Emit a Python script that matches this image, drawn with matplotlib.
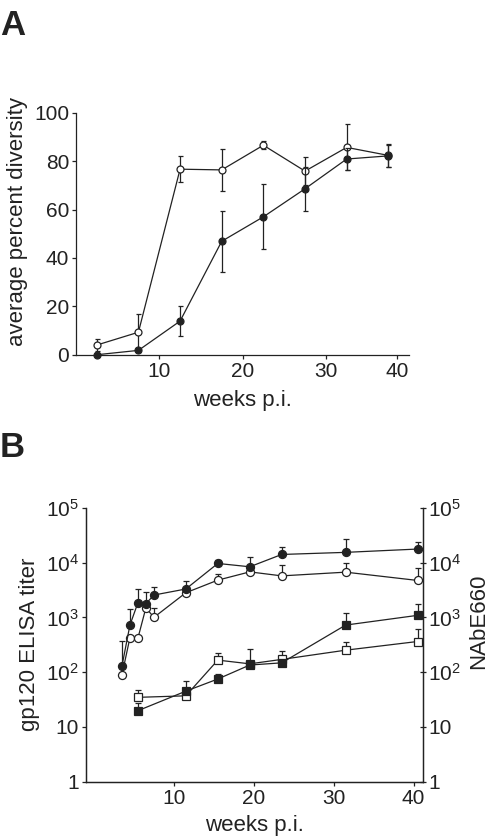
import matplotlib
matplotlib.use("Agg")
import matplotlib.pyplot as plt
import numpy as np

plt.rcParams['font.family'] = ['Liberation Sans', 'DejaVu Sans']
plt.rcParams['mathtext.fontset'] = 'custom'
plt.rcParams['mathtext.rm'] = 'Liberation Sans'
plt.rcParams['mathtext.it'] = 'Liberation Sans'

INK = '#222222'

# ---- panel A data ----
weeks_a = [2.5, 7.5, 12.5, 17.5, 22.5, 27.5, 32.5, 37.5]
open_div = [4.0, 9.3, 76.7, 76.4, 86.6, 75.9, 85.7, 82.4]
open_div_err = [2.4, 7.4, 5.3, 8.6, 1.6, 5.7, 9.5, 4.6]
filled_div = [0.0, 1.8, 13.9, 46.9, 57.0, 68.6, 80.9, 82.2]
filled_div_err = [0.5, 0.8, 6.2, 12.7, 13.4, 9.0, 4.6, 4.5]
xticks_a = [10, 20, 30, 38.6]
xticklabels_a = ['10', '20', '30', '40']

# ---- panel B data ----
weeks_b = [3.5, 4.5, 5.5, 6.5, 7.5, 11.5, 15.5, 19.5, 23.5, 31.5, 40.5]
elisa_filled = [129, 724, 1850, 1780, 2560, 3300, 9660, 8400, 14100, 15400, 17700]
elisa_filled_top = [373, 1450, 3330, 2900, 3560, 4530, 11400, 12700, 19100, 26800, 24000]
elisa_open = [89, 425, 418, 1500, 1000, 2820, 4790, 6780, 5730, 6700, 4730]
elisa_open_top = [89, 425, 418, 1500, 1500, 2820, 6320, 6780, 9120, 9900, 8000]

weeks_nab = [5.5, 11.5, 15.5, 19.5, 23.5, 31.5, 40.5]
nab_filled = [19.8, 45, 75, 135, 148, 724, 1090]
nab_filled_top = [27, 69, 92, 262, 148, 1180, 1730]
nab_open = [34.7, 37, 166, 142, 171, 252, 363]
nab_open_top = [47, 37, 225, 142, 245, 363, 620]

log_ticks = [1, 10, 100, 1000, 10000, 100000]
log_labels = ['1', '10', r'$10^{2}$', r'$10^{3}$', r'$10^{4}$', r'$10^{5}$']

TICK_FS = 15
LABEL_FS = 16

fig = plt.figure(figsize=(4.9, 8.4), dpi=100)

# ---------------- Panel A ----------------
ax1 = fig.add_axes([0.155, 0.5777, 0.680, 0.288])
ax1.errorbar(weeks_a, open_div, yerr=open_div_err, color=INK, lw=0.9,
             marker='o', ms=5, mfc='white', mec=INK, mew=0.9,
             elinewidth=0.9, capsize=1.8, capthick=0.9, zorder=3)
ax1.errorbar(weeks_a, filled_div, yerr=filled_div_err, color=INK, lw=0.9,
             marker='o', ms=5, mfc=INK, mec=INK, mew=0.9,
             elinewidth=0.9, capsize=1.8, capthick=0.9, zorder=4)
ax1.set_xlim(0, 40)
ax1.set_ylim(0, 100)
ax1.set_xticks(xticks_a, xticklabels_a)
ax1.set_yticks([0, 20, 40, 60, 80, 100])
ax1.spines['top'].set_visible(False)
ax1.spines['right'].set_visible(False)
for s in ax1.spines.values():
    s.set_linewidth(0.9)
    s.set_color(INK)
ax1.tick_params(direction='out', length=3, width=0.9, colors=INK,
                labelsize=TICK_FS, pad=2)
ax1.set_xlabel('weeks p.i.', fontsize=LABEL_FS, color=INK, labelpad=7)
ax1.set_ylabel('average percent diversity', fontsize=LABEL_FS, color=INK)
ax1.yaxis.set_label_coords(-0.144, 0.552)
for c in ax1.get_children():
    try:
        c.set_clip_on(False)
    except Exception:
        pass

fig.text(0.0, 1 - 35 / 840, 'A', fontsize=25, fontweight='bold', color=INK,
         ha='left', va='baseline')

# ---------------- Panel B ----------------
ax2 = fig.add_axes([0.1755, 0.0694, 0.688, 0.326])
ax2.set_yscale('log')
ax2.set_ylim(1, 1e5)
ax2.set_xlim(-1, 41.2)


def up_err(vals, tops):
    v = np.array(vals, dtype=float)
    t = np.array(tops, dtype=float)
    return [np.zeros_like(v), t - v]


ax2.errorbar(weeks_b, elisa_open, yerr=up_err(elisa_open, elisa_open_top),
             color=INK, lw=0.9, marker='o', ms=5.8, mfc='white', mec=INK,
             mew=0.9, elinewidth=0.9, capsize=2.5, capthick=0.9, zorder=3)
ax2.errorbar(weeks_b, elisa_filled, yerr=up_err(elisa_filled, elisa_filled_top),
             color=INK, lw=0.9, marker='o', ms=5.8, mfc=INK, mec=INK,
             mew=0.9, elinewidth=0.9, capsize=2.5, capthick=0.9, zorder=4)
ax2.errorbar(weeks_nab, nab_open, yerr=up_err(nab_open, nab_open_top),
             color=INK, lw=0.9, marker='s', ms=5.8, mfc='white', mec=INK,
             mew=0.9, elinewidth=0.9, capsize=2.5, capthick=0.9, zorder=3)
ax2.errorbar(weeks_nab, nab_filled, yerr=up_err(nab_filled, nab_filled_top),
             color=INK, lw=0.9, marker='s', ms=5.8, mfc=INK, mec=INK,
             mew=0.9, elinewidth=0.9, capsize=2.5, capthick=0.9, zorder=4)
for c in ax2.get_children():
    try:
        c.set_clip_on(False)
    except Exception:
        pass

ax2.set_xticks([10, 20, 30, 40])
ax2.set_yticks(log_ticks, log_labels)
ax2.yaxis.set_minor_locator(matplotlib.ticker.NullLocator())
ax2.spines['top'].set_visible(False)
for s in ax2.spines.values():
    s.set_linewidth(0.9)
    s.set_color(INK)
ax2.tick_params(direction='out', length=3, width=0.9, colors=INK,
                labelsize=TICK_FS, pad=2)
ax2.set_xlabel('weeks p.i.', fontsize=LABEL_FS, color=INK, labelpad=5)
ax2.set_ylabel('gp120 ELISA titer', fontsize=LABEL_FS, color=INK, labelpad=4)

ax3 = ax2.twinx()
ax3.set_yscale('log')
ax3.set_ylim(1, 1e5)
ax3.set_yticks(log_ticks, log_labels)
ax3.yaxis.set_minor_locator(matplotlib.ticker.NullLocator())
ax3.spines['top'].set_visible(False)
for s in ax3.spines.values():
    s.set_linewidth(0.9)
    s.set_color(INK)
ax3.tick_params(direction='inout', length=5, width=0.9, colors=INK,
                labelsize=TICK_FS, pad=1)
ax3.set_ylabel('NAbE660', fontsize=LABEL_FS, color=INK)
ax3.yaxis.set_label_coords(1.133, 0.586)

fig.text(0.0, 1 - 457 / 840, 'B', fontsize=25, fontweight='bold', color=INK,
         ha='left', va='baseline')

fig.savefig('out.png', dpi=100)
